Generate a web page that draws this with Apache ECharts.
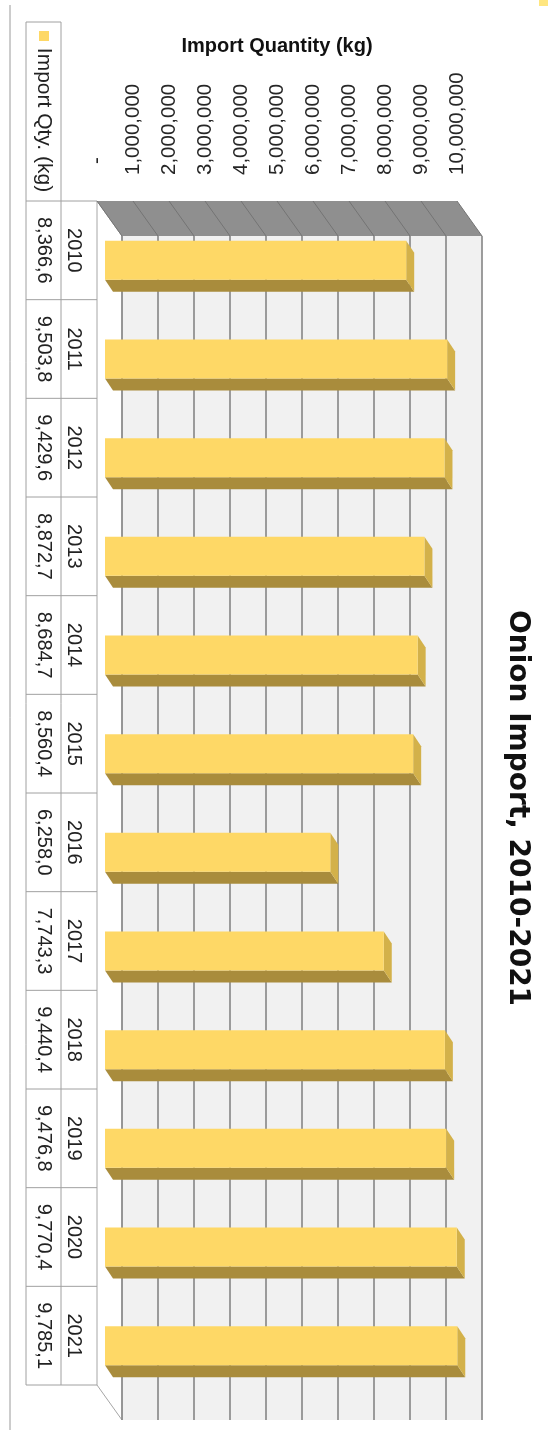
<!DOCTYPE html>
<html>
<head>
<meta charset="utf-8">
<script src="https://cdn.jsdelivr.net/npm/echarts@6/dist/echarts.min.js"></script>
<style>
html,body{margin:0;padding:0;background:#ffffff;}
#c{width:552px;height:1430px;}
</style>
</head>
<body>
<div id="c"></div>
<script>
// ---- data ----
const years = ['2010','2011','2012','2013','2014','2015','2016','2017','2018','2019','2020','2021'];
const importQty = [8366600, 9503800, 9429600, 8872700, 8684700, 8560400, 6258000, 7743300, 9440400, 9476800, 9770400, 9785100];
const valueTicks = [0,1000000,2000000,3000000,4000000,5000000,6000000,7000000,8000000,9000000,10000000];
const titleText = 'Onion Import, 2010-2021';
const axisTitle = 'Import Quantity (kg)';
const seriesName = 'Import Qty. (kg)';

// ---- styling constants ----
const WALL_D = [25, 35];   // depth of chart walls
const BAR_OFF = [8, 10];   // bar front plane offset
const BAR_D = [8, 12];     // bar depth
const TABLE_FONT = '20px "Liberation Sans", Arial, sans-serif';
const LABEL_FAMILY = '"Liberation Sans", Arial, sans-serif';

function fmt(v) { return v.toLocaleString('en-US'); }

const chart = echarts.init(document.getElementById('c'), null, {renderer: 'canvas', width: 552, height: 1430});

function wallsRender(params, api) {
  const cs = params.coordSys;
  const x0 = cs.x, y0 = cs.y, x1 = cs.x + cs.width, y1 = cs.y + cs.height;
  const dx = WALL_D[0], dy = WALL_D[1];
  const ch = [];
  // back wall
  ch.push({type: 'rect', shape: {x: x0 + dx, y: y0 + dy, width: cs.width, height: cs.height}, style: {fill: '#f1f1f1'}});
  // floor
  ch.push({type: 'polygon', shape: {points: [[x0, y0], [x0 + dx, y0 + dy], [x0 + dx, y1 + dy], [x0, y1]]}, style: {fill: '#ffffff', stroke: '#a6a6a6', lineWidth: 1}});
  // side wall
  ch.push({type: 'polygon', shape: {points: [[x0, y0], [x1, y0], [x1 + dx, y0 + dy], [x0 + dx, y0 + dy]]}, style: {fill: '#8f8f8f'}});
  valueTicks.forEach(v => {
    const x = api.coord([v, 0])[0];
    ch.push({type: 'line', shape: {x1: x, y1: y0, x2: x + dx, y2: y0 + dy}, style: {stroke: '#747474', lineWidth: 1}});
    ch.push({type: 'line', shape: {x1: x + dx, y1: y0 + dy, x2: x + dx, y2: y1 + dy}, style: {stroke: '#8c8c8c', lineWidth: 1.7}});
  });
  // data table frame
  const band = cs.height / years.length;
  const cA = x0 - 71, cB = x0 - 36, legTop = y0 - 179;
  const ls = {stroke: '#a0a0a0', lineWidth: 1};
  ch.push({type: 'line', shape: {x1: cA, y1: legTop, x2: cA, y2: y1}, style: ls});
  ch.push({type: 'line', shape: {x1: cB, y1: legTop, x2: cB, y2: y1}, style: ls});
  ch.push({type: 'line', shape: {x1: cA, y1: legTop, x2: cB, y2: legTop}, style: ls});
  ch.push({type: 'line', shape: {x1: cA, y1: y0, x2: x0, y2: y0}, style: ls});
  for (let i = 1; i <= years.length; i++) {
    const y = y0 + band * i;
    ch.push({type: 'line', shape: {x1: cA, y1: y, x2: x0, y2: y}, style: ls});
  }
  return {type: 'group', children: ch};
}

function tableRender(params, api) {
  const cs = params.coordSys;
  const ci = api.value(0);
  const cy = api.coord([0, ci])[1];
  const v = api.value(1);
  return {type: 'group', children: [
    {type: 'text', x: cs.x - 23, y: cy, rotation: -Math.PI / 2,
     style: {text: years[ci], font: TABLE_FONT, fill: '#222', align: 'center', verticalAlign: 'middle'}},
    {type: 'text', x: cs.x - 53, y: cy, rotation: -Math.PI / 2,
     style: {text: fmt(v).slice(0, 7), font: TABLE_FONT, fill: '#222', align: 'center', verticalAlign: 'middle'}}
  ]};
}

function barRender(params, api) {
  const ci = api.value(0);
  const v = api.value(1);
  const p0 = api.coord([0, ci]);
  const p1 = api.coord([v, ci]);
  const band = api.size([0, 1])[1];
  const h = band * 0.395;
  const xs = p0[0] + BAR_OFF[0], xe = p1[0] + BAR_OFF[0];
  const yt = p0[1] + BAR_OFF[1] - h / 2, yb = yt + h;
  const bx = BAR_D[0], by = BAR_D[1];
  return {type: 'group', children: [
    {type: 'polygon', shape: {points: [[xs, yb], [xe, yb], [xe + bx, yb + by], [xs + bx, yb + by]]}, style: {fill: '#a98c3c'}},
    {type: 'polygon', shape: {points: [[xe, yt], [xe + bx, yt + by], [xe + bx, yb + by], [xe, yb]]}, style: {fill: '#d3b14a'}},
    {type: 'rect', shape: {x: xs, y: yt, width: xe - xs, height: h}, style: {fill: '#fed866'}}
  ]};
}

const rows = years.map((y, i) => [i, importQty[i]]);

const baseX = {
  type: 'value', position: 'top', min: 0, max: 10000000, interval: 1000000,
  axisLine: {show: false}, axisTick: {show: false}, splitLine: {show: false}
};

chart.setOption({
  animation: false,
  backgroundColor: '#ffffff',
  grid: {left: 97, top: 201, width: 360, height: 1184, containLabel: false},
  xAxis: [
    Object.assign({}, baseX, {
      axisLabel: {
        rotate: -90, margin: 26, color: '#262626',
        fontFamily: LABEL_FAMILY, fontSize: 20.5,
        formatter: v => v === 0 ? '' : fmt(v)
      },
      name: axisTitle, nameLocation: 'middle', nameGap: 145, nameMoveOverlap: false,
      nameTextStyle: {fontFamily: LABEL_FAMILY, fontWeight: 'bold', fontSize: 20, color: '#111'}
    }),
    Object.assign({}, baseX, {
      axisLabel: {
        rotate: -90, margin: 37, color: '#262626',
        fontFamily: LABEL_FAMILY, fontSize: 20.5,
        formatter: v => v === 0 ? '-' : ''
      }
    })
  ],
  yAxis: {type: 'category', data: years, inverse: true, show: false},
  series: [
    {type: 'custom', name: 'walls', data: [[0, 0]], encode: {x: 1, y: 0}, renderItem: wallsRender, silent: true, z: 1, clip: false},
    {type: 'custom', name: 'table', data: rows, encode: {x: 1, y: 0}, renderItem: tableRender, silent: true, z: 2, clip: false},
    {type: 'custom', name: seriesName, data: rows, encode: {x: 1, y: 0}, renderItem: barRender, z: 3, clip: false}
  ],
  graphic: [
    {type: 'line', shape: {x1: 10, y1: 5, x2: 10, y2: 1430}, style: {stroke: '#9a9a9a', lineWidth: 1}},
    {type: 'rect', shape: {x: 539, y: 0, width: 9, height: 6}, style: {fill: '#ffe680'}},
    {type: 'rect', shape: {x: 39, y: 31, width: 10, height: 10}, style: {fill: '#fed866'}},
    {type: 'text', x: 43.5, y: 120, rotation: -Math.PI / 2,
     style: {text: seriesName, font: '21px "Liberation Sans", Arial, sans-serif', fill: '#222', align: 'center', verticalAlign: 'middle'}},
    {type: 'text', x: 517, y: 808, rotation: -Math.PI / 2,
     style: {text: titleText, font: 'bold 28px "DejaVu Sans", sans-serif', fill: '#111', align: 'center', verticalAlign: 'middle'}}
  ]
});
</script>
</body>
</html>
